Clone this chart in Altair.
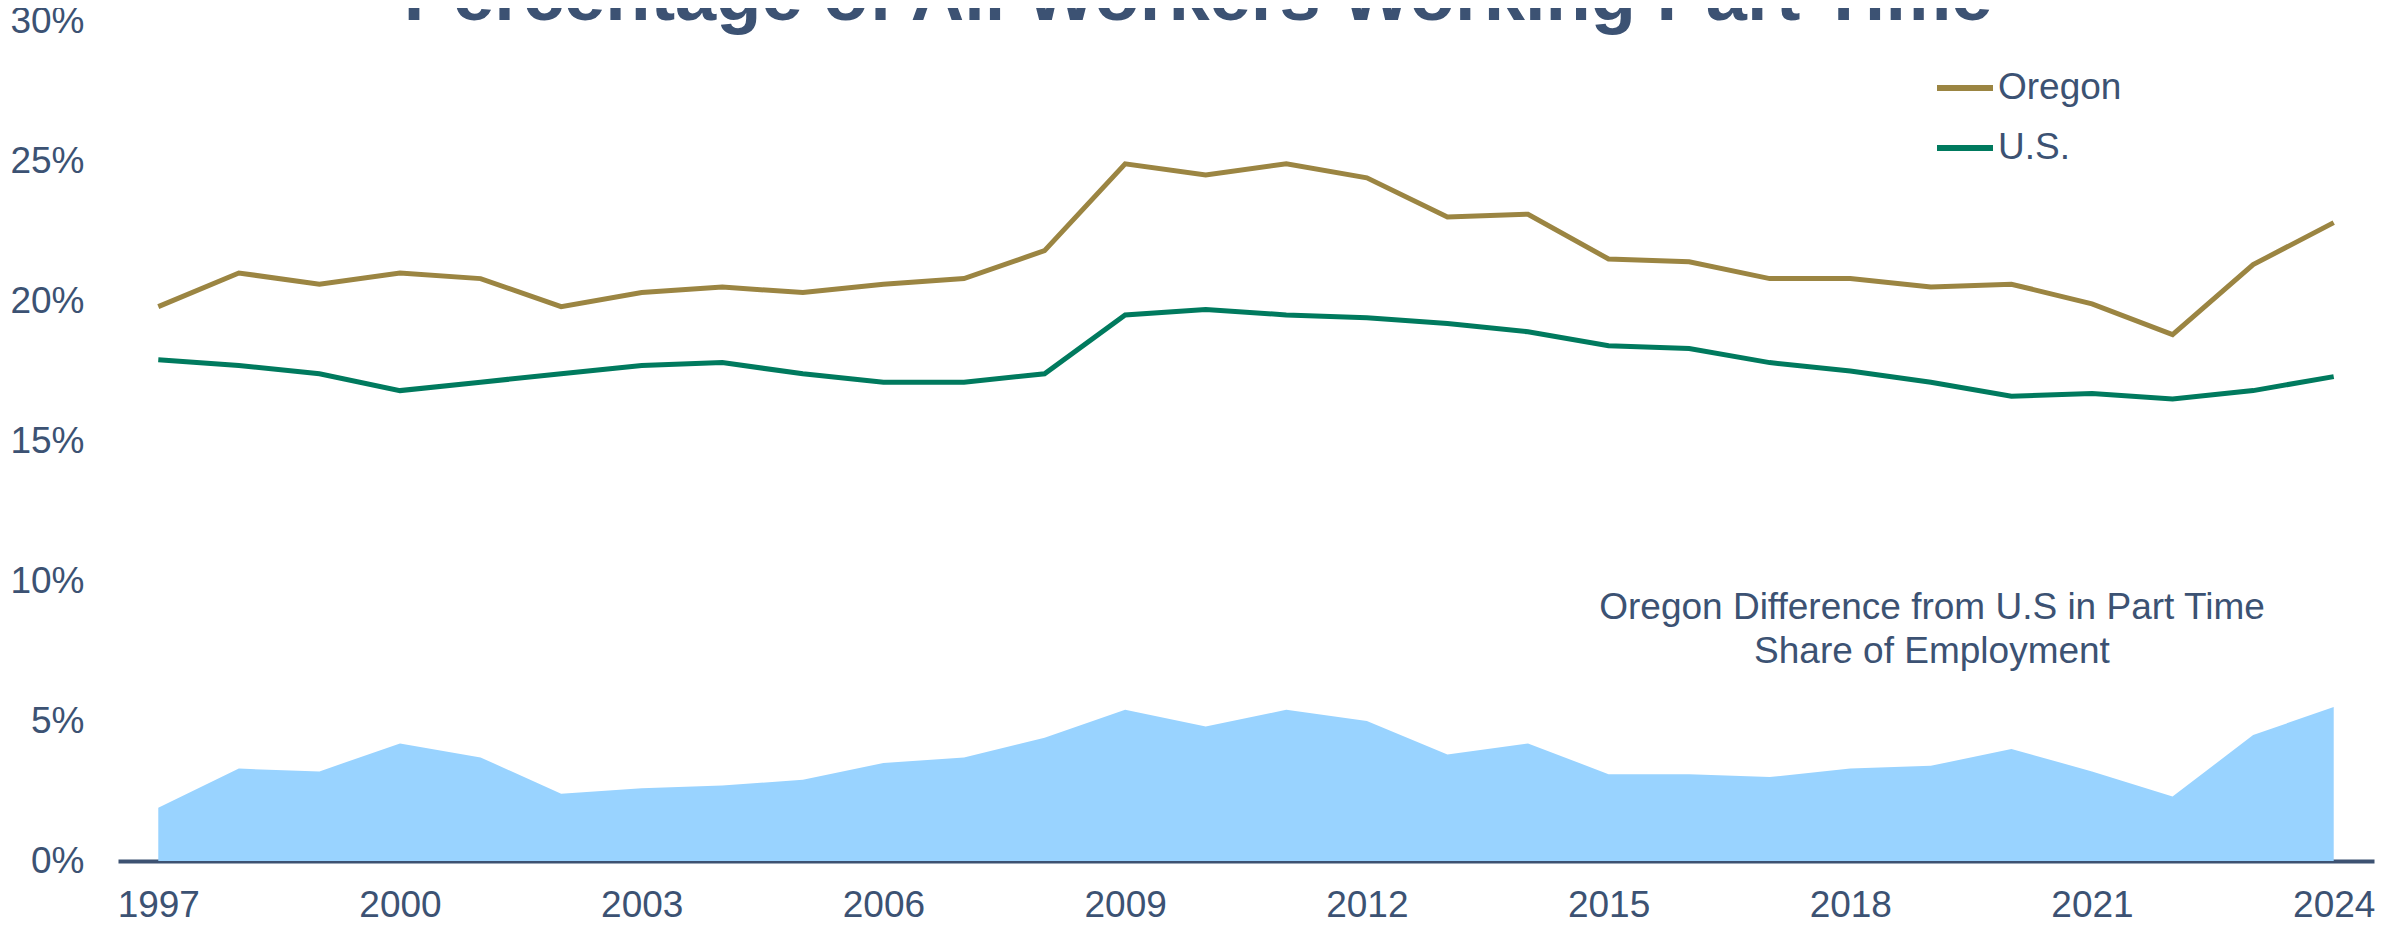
import altair as alt
import pandas as pd

years = list(range(1997, 2025))
oregon = [19.8, 21.0, 20.6, 21.0, 20.8, 19.8, 20.3, 20.5, 20.3, 20.6, 20.8, 21.8, 24.9, 24.5,
          24.9, 24.4, 23.0, 23.1, 21.5, 21.4, 20.8, 20.8, 20.5, 20.6, 19.9, 18.8, 21.3, 22.8]
us = [17.9, 17.7, 17.4, 16.8, 17.1, 17.4, 17.7, 17.8, 17.4, 17.1, 17.1, 17.4, 19.5, 19.7,
      19.5, 19.4, 19.2, 18.9, 18.4, 18.3, 17.8, 17.5, 17.1, 16.6, 16.7, 16.5, 16.8, 17.3]
difference = [1.9, 3.3, 3.2, 4.2, 3.7, 2.4, 2.6, 2.7, 2.9, 3.5, 3.7, 4.4, 5.4, 4.8,
              5.4, 5.0, 3.8, 4.2, 3.1, 3.1, 3.0, 3.3, 3.4, 4.0, 3.2, 2.3, 4.5, 5.5]
series_names = ["Oregon", "U.S."]
series_colors = ["#9B8542", "#007A5E"]
x_ticks = [1997, 2000, 2003, 2006, 2009, 2012, 2015, 2018, 2021, 2024]
y_ticks = [0, 5, 10, 15, 20, 25, 30]
title_text = "Percentage of All Workers Working Part Time"
note_text = "Oregon Difference from U.S in Part Time\nShare of Employment"

FONT = "Liberation Sans"
TEXT = "#3C5273"

lines_df = pd.DataFrame({
    "year": years * 2,
    "value": oregon + us,
    "series": ["Oregon"] * len(years) + ["U.S."] * len(years),
})
diff_df = pd.DataFrame({"year": years, "diff": difference})

xscale = alt.Scale(domain=[1996.5, 2024.5], nice=False, zero=False)
yscale = alt.Scale(domain=[0, 30], nice=False)

xaxis = alt.Axis(values=x_ticks, format="d", title=None, grid=False, ticks=False,
                 domain=True, domainColor="#3D5272", domainWidth=4,
                 labelFont=FONT, labelFontSize=37, labelColor=TEXT, labelPadding=26,
                 labelFlush=False)
yaxis = alt.Axis(values=y_ticks, title=None, grid=False, ticks=False, domain=False,
                 labelExpr="datum.value + '%'", labelFont=FONT, labelFontSize=37,
                 labelColor=TEXT, labelPadding=34)

area = alt.Chart(diff_df).mark_area(color="#99D3FF", opacity=1).encode(
    x=alt.X("year:Q", scale=xscale, axis=xaxis),
    y=alt.Y("diff:Q", scale=yscale, axis=yaxis),
)

lines = alt.Chart(lines_df).mark_line(strokeWidth=5).encode(
    x=alt.X("year:Q", scale=xscale),
    y=alt.Y("value:Q", scale=yscale),
    color=alt.Color("series:N",
                    scale=alt.Scale(domain=series_names, range=series_colors),
                    sort=series_names,
                    legend=alt.Legend(orient="none", legendX=1816, legendY=36, title=None,
                                      symbolType="stroke", symbolSize=3136,
                                      symbolStrokeWidth=6, labelFont=FONT,
                                      labelFontSize=37, labelColor=TEXT, labelOffset=2,
                                      rowPadding=11, padding=0, direction="vertical")),
)

title = alt.Chart(pd.DataFrame({"t": [title_text]})).mark_text(
    font=FONT, fontSize=74, fontWeight="bold", color=TEXT, align="center",
    baseline="alphabetic"
).encode(text="t:N", x=alt.value(1080), y=alt.value(-1))

note = alt.Chart(pd.DataFrame({"t": [note_text]})).mark_text(
    font=FONT, fontSize=37, color=TEXT, align="center", baseline="alphabetic",
    lineBreak="\n", lineHeight=44
).encode(text="t:N", x=alt.value(1814), y=alt.value(598))

chart = alt.layer(area, lines, note, title).properties(
    width=2256, height=840,
    autosize=alt.AutoSizeParams(type="none"),
    padding={"left": 110, "top": 13, "right": 10, "bottom": 65},
).configure_view(stroke=None)

chart.save("out.html", embed_options={"renderer": "svg", "actions": False})
